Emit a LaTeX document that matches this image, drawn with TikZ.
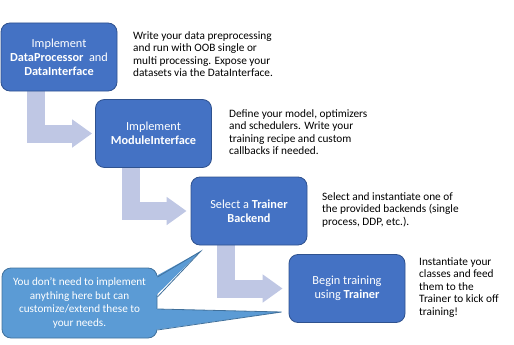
\documentclass[tikz,border=0pt]{standalone}
\usepackage{fontspec}
\setmainfont{Carlito}
\usetikzlibrary{arrows.meta,calc,backgrounds}
\definecolor{boxfill}{HTML}{4472C4}
\definecolor{boxline}{HTML}{2F528F}
\definecolor{callfill}{HTML}{5B9BD5}
\definecolor{callline}{HTML}{41719C}
\definecolor{arrowcol}{HTML}{BFC7E4}
\begin{document}
\begin{tikzpicture}[x=1pt,y=-1pt,
  stepbox/.style={draw=boxline, line width=0.8pt, fill=boxfill, rounded corners=9pt,
    minimum width=116pt, minimum height=68pt, text=white, align=center,
    font=\fontsize{12.3}{14}\selectfont, inner sep=0pt},
  desc/.style={anchor=north west, align=left, inner sep=0pt,
    font=\fontsize{11.3}{12.4}\selectfont},
  bentarrow/.style={draw=arrowcol, line width=18pt, line join=miter,
    -{Triangle[width=27pt,length=20pt]}},
  callbox/.style={draw=callline, line width=0.8pt, fill=callfill, rounded corners=9pt,
    minimum width=155pt, minimum height=70pt, text=white, align=center,
    font=\fontsize{11.2}{13.7}\selectfont, inner sep=0pt},
  tailfill/.style={fill=callfill},
  tailline/.style={draw=callline, line width=0.8pt}
]
\useasboundingbox (0,0) rectangle (514,345);

% step boxes
\node[stepbox] (b1) at (59,57) {Implement\\\textbf{DataProcessor}\ \ and\\\textbf{DataInterface}};
\node[stepbox] (b2) at (153.5,133.5) {Implement\\\textbf{ModuleInterface}};
\node[stepbox] (b3) at (249,211) {Select a \textbf{Trainer}\\\textbf{Backend}};
\node[stepbox] (b4) at (347,288.5) {Begin training\\using \textbf{Trainer}};

% descriptions
\node[desc] (d1) at (133,31.5) {Write your data preprocessing\\and run with OOB single or\\multi processing. Expose your\\datasets via the DataInterface.};
\node[desc] (d2) at (229,109.5) {Define your model, optimizers\\and schedulers. Write your\\training recipe and custom\\callbacks if needed.};
\node[desc] (d3) at (322,192.5) {Select and instantiate one of\\the provided backends (single\\process, DDP, etc.).};
\node[desc] (d4) at (419,257.5) {Instantiate your\\classes and feed\\them to the\\Trainer to kick off\\training!};

% bent arrows
\begin{scope}[on background layer]
\draw[bentarrow] ($(b1.south west)+(35,0)$) |- ($(b2.west)+(-3,0)$);
\draw[bentarrow] ($(b2.south west)+(36,0)$) |- ($(b3.west)+(-4,0)$);
\draw[bentarrow] ($(b3.south west)+(35,0)$) |- ($(b4.west)+(-6,0)$);
\end{scope}

% callout
\node[callbox] (co) at (79.5,303) {You don’t need to implement\\anything here but can\\customize/extend these to\\your needs.};
\coordinate (tipa) at ($(b3.south west)+(10,6)$);
\coordinate (tipb) at ($(b4.west)+(-7,23.5)$);
\fill[tailfill] ($(co.east)+(-3,-26)$) -- (tipa) -- ($(co.east)+(-3,-6)$) -- cycle;
\draw[tailline] ($(co.east)+(0,-26)$) -- (tipa) -- ($(co.east)+(0,-6)$);
\fill[tailfill] ($(co.east)+(-3,6)$) -- (tipb) -- ($(co.east)+(-3,27)$) -- cycle;
\draw[tailline] ($(co.east)+(0,6)$) -- (tipb) -- ($(co.east)+(0,27)$);
\end{tikzpicture}
\end{document}
